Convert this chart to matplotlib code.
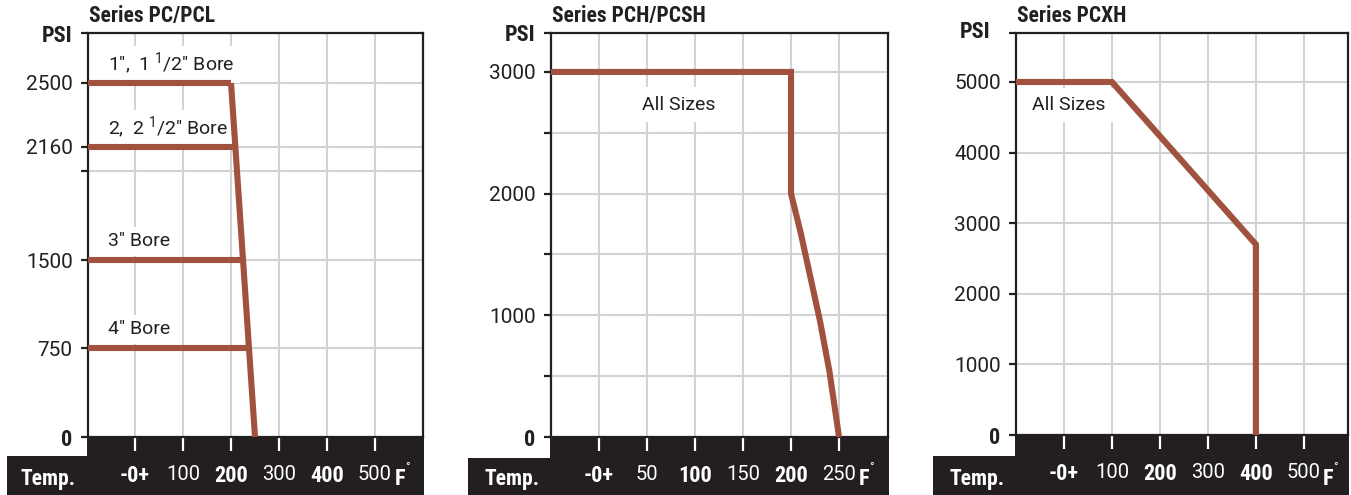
import matplotlib
matplotlib.use('Agg')
import matplotlib.pyplot as plt
import numpy as np
from matplotlib import font_manager
from matplotlib.patches import Rectangle

_fl = font_manager.fontManager.ttflist
_bold_names = {f.name for f in _fl if f.weight in (700, 'bold')}
NARROW = 'Liberation Sans'
for cand in ['Roboto Condensed', 'PT Sans Narrow', 'Archivo Narrow', 'Liberation Sans Narrow',
             'Asap Condensed']:
    if cand in _bold_names:
        NARROW = cand
        break
REG = 'Roboto' if any(f.name == 'Roboto' for f in _fl) else 'Liberation Sans'
REGW = 'normal'
plt.rcParams['mathtext.fontset'] = 'custom'
plt.rcParams['mathtext.rm'] = REG
plt.rcParams['mathtext.it'] = REG
plt.rcParams['mathtext.bf'] = REG

# ---------------- data ----------------
# Series PC/PCL
pc_labels = ['1",  1 $^{1}$/2" Bore', '2,  2 $^{1}$/2" Bore', '3" Bore', '4" Bore']
pc_psi = [2500, 2160, 1500, 750]
pc_start_temp = -100
pc_end_temp = [200, 210, 226, 238]
pc_derate_temp = [200, 250]
pc_derate_psi = [2500, 0]
pc_xticks = [0, 100, 200, 300, 400, 500]
pc_xticklabels = ['-0+', '100', '200', '300', '400', '500']
pc_yticks = [0, 750, 1500, 2000, 2160, 2500, 2800]
pc_yticklabels = ['0', '750', '1500', '', '2160', '2500', 'PSI']

# Series PCH/PCSH
pch_temp = [-50, 200, 200, 210, 220, 230, 240, 250]
pch_psi = [3000, 3000, 2000, 1680, 1320, 960, 540, 0]
pch_xticks = [0, 50, 100, 150, 200, 250]
pch_xticklabels = ['-0+', '50', '100', '150', '200', '250']
pch_yticks = [0, 500, 1000, 1500, 2000, 2500, 3000, 3320]
pch_yticklabels = ['0', '', '1000', '', '2000', '', '3000', 'PSI']

# Series PCXH
pcxh_temp = [-100, 100, 400, 400]
pcxh_psi = [5000, 5000, 2700, 0]
pcxh_xticks = [0, 100, 200, 300, 400, 500]
pcxh_xticklabels = ['-0+', '100', '200', '300', '400', '500']
pcxh_yticks = [0, 1000, 2000, 3000, 4000, 5000, 5694]
pcxh_yticklabels = ['0', '1000', '2000', '3000', '4000', '5000', '']

xbold = [True, False, True, False, True, False]
titles = ['Series PC/PCL', 'Series PCH/PCSH', 'Series PCXH']

# ---------------- style ----------------
W, H = 1351, 495
DARK = '#231f20'
LINE = '#a0523e'
GRID = '#d1d3d4'
LW = 4.4

fig = plt.figure(figsize=(W / 100, H / 100), dpi=100)


def fx(x):
    return x / W


def fy(y):
    return 1 - y / H


def make_ax(left, right, top, bottom):
    return fig.add_axes([fx(left), fy(bottom), fx(right - left), (bottom - top) / H])


ax1 = make_ax(88, 423, 33, 437)
ax2 = make_ax(551, 888, 33, 437)
ax3 = make_ax(1016, 1348, 33, 435)

# schematic (non-linear) pressure axis of the first chart
knot_v = np.array([0, 750, 1500, 2000, 2160, 2500, 2800], dtype=float)
knot_p = np.array([0, 89, 177, 266, 290, 354, 404], dtype=float)


def fwd(v):
    return np.interp(v, knot_v, knot_p)


def inv(p):
    return np.interp(p, knot_p, knot_v)


ax1.set_yscale('function', functions=(fwd, inv))
ax1.set_xlim(-98, 600)
ax1.set_ylim(0, 2800)
ax2.set_xlim(-50, 301)
ax2.set_ylim(0, 3320)
ax3.set_xlim(-100, 592)
ax3.set_ylim(0, 5694)

TXT = dict(family=REG, fontweight=REGW, color=DARK, fontsize=14)

# lines
for p, e, lab in zip(pc_psi, pc_end_temp, pc_labels):
    ax1.plot([pc_start_temp, e], [p, p], color=LINE, lw=LW, solid_capstyle='butt', zorder=3)
    ax1.annotate(lab, xy=(-56, p), xytext=(0, 13.5), textcoords='offset points',
                 ha='left', va='center', **TXT,
                 bbox=dict(facecolor='white', edgecolor='none', pad=4), zorder=2)
ax1.plot(pc_derate_temp, pc_derate_psi, color=LINE, lw=LW, solid_capstyle='butt', zorder=3)

ax2.plot(pch_temp, pch_psi, color=LINE, lw=LW, solid_capstyle='butt',
         solid_joinstyle='miter', zorder=3)
ax2.text(83, 2730, 'All Sizes', ha='center', va='center', **TXT,
         bbox=dict(facecolor='white', edgecolor='none', pad=6), zorder=2)

ax3.plot(pcxh_temp, pcxh_psi, color=LINE, lw=LW, solid_capstyle='butt',
         solid_joinstyle='miter', zorder=3)
ax3.text(-67, 4674, 'All Sizes', ha='left', va='center', **TXT,
         bbox=dict(facecolor='white', edgecolor='none', pad=6), zorder=2)

cfg = [
    (ax1, pc_xticks, pc_xticklabels, pc_yticks, pc_yticklabels),
    (ax2, pch_xticks, pch_xticklabels, pch_yticks, pch_yticklabels),
    (ax3, pcxh_xticks, pcxh_xticklabels, pcxh_yticks, pcxh_yticklabels),
]
for ax, xt, xtl, yt, ytl in cfg:
    ax.set_xticks(xt)
    ax.set_xticklabels(xtl)
    ax.set_yticks(yt)
    ax.set_yticklabels(ytl)
    ax.yaxis.set_minor_locator(matplotlib.ticker.NullLocator())
    ax.set_axisbelow(True)
    ax.grid(True, color=GRID, lw=1.5)
    for s in ['left', 'top', 'right', 'bottom']:
        ax.spines[s].set_color(DARK)
        ax.spines[s].set_linewidth(1.6)
    ax.tick_params(axis='x', direction='out', length=10, width=1.6, color='white',
                   pad=10.5, labelcolor='white')
    ax.tick_params(axis='y', direction='out', length=5, width=1.6, color=DARK,
                   pad=6, labelcolor=DARK)
    for lbl, b in zip(ax.get_xticklabels(), xbold):
        lbl.set_family(NARROW if b else REG)
        lbl.set_fontweight('bold' if b else REGW)
        lbl.set_fontsize(16 if b else 14.5)
    for lbl, t in zip(ax.get_yticklabels(), ytl):
        if t in ('0', 'PSI'):
            lbl.set_family(NARROW)
            lbl.set_fontweight('bold')
            lbl.set_fontsize(16)
        else:
            lbl.set_family(REG)
            lbl.set_fontweight(REGW)
            lbl.set_fontsize(15)

# dark temperature bands
bands = [
    (87, 424, 436, 7, 456),
    (550, 889, 437, 468, 458),
    (1015, 1349, 435, 933, 456),
]
for x0, x1, ytop, xl, ylow in bands:
    fig.add_artist(Rectangle((fx(x0), 0), fx(x1 - x0), fy(ytop), transform=fig.transFigure,
                             facecolor=DARK, edgecolor='none', zorder=-1))
    fig.add_artist(Rectangle((fx(xl), 0), fx(x1 - xl), fy(ylow), transform=fig.transFigure,
                             facecolor=DARK, edgecolor='none', zorder=-1))

for cx in [48, 512, 977]:
    fig.text(fx(cx), fy(479), 'Temp.', ha='center', va='center', color='white',
             family=NARROW, fontweight='bold', fontsize=15.5)

for fxp in [400, 864, 1328]:
    fig.text(fx(fxp), fy(479), 'F', ha='center', va='center', color='white',
             family=NARROW, fontweight='bold', fontsize=16)
    fig.text(fx(fxp + 8), fy(468), '\u00b0', ha='center', va='center', color='white',
             family=REG, fontsize=9)

for tx, t in zip([89, 552, 1017], titles):
    fig.text(fx(tx), fy(16), t, ha='left', va='center', color=DARK,
             family=NARROW, fontweight='bold', fontsize=15.5)

fig.text(fx(990), fy(32), 'PSI', ha='right', va='center', color=DARK,
         family=NARROW, fontweight='bold', fontsize=16)

fig.savefig('out.png', dpi=100, facecolor='white')
